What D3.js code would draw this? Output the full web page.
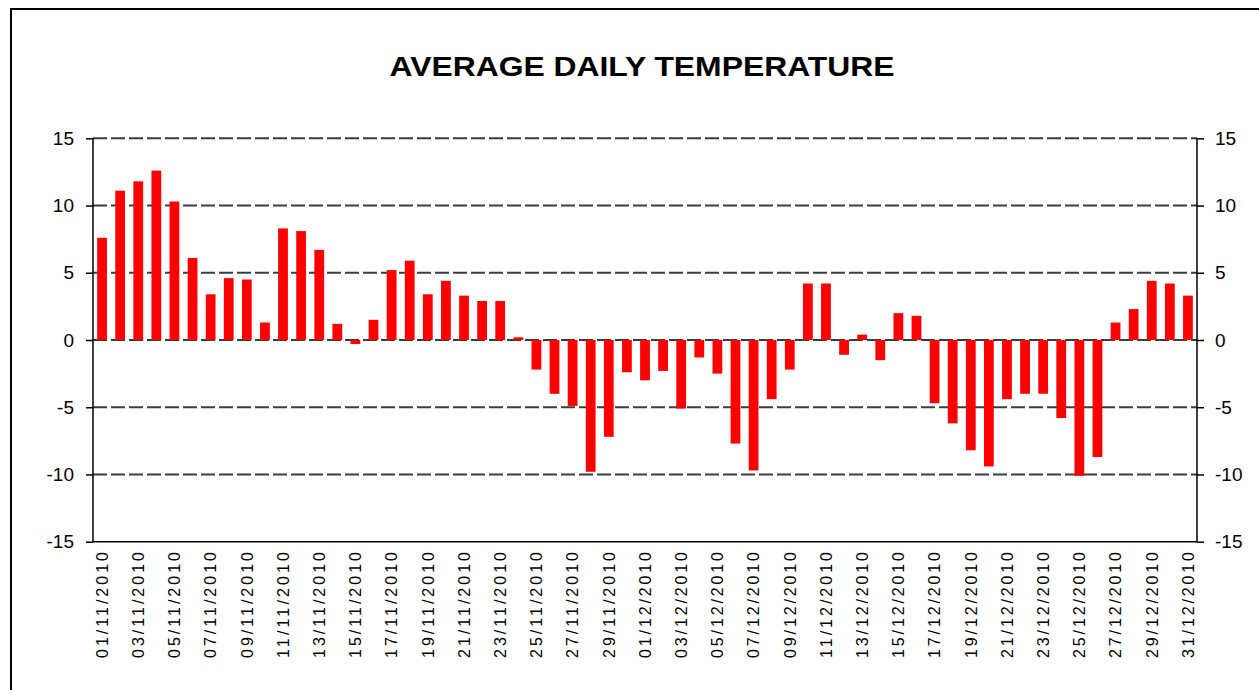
<!DOCTYPE html>
<html>
<head>
<meta charset="utf-8">
<script src="https://cdn.jsdelivr.net/npm/d3@7/dist/d3.min.js"></script>
<style>
  html, body { margin: 0; padding: 0; background: #fff; }
  svg { display: block; font-family: "Liberation Sans", Arial, sans-serif; }
</style>
</head>
<body>
<svg id="chart" width="1259" height="690"></svg>
<script>
// ---- data ----
const dates = [
  "01/11/2010","02/11/2010","03/11/2010","04/11/2010","05/11/2010","06/11/2010","07/11/2010","08/11/2010","09/11/2010","10/11/2010",
  "11/11/2010","12/11/2010","13/11/2010","14/11/2010","15/11/2010","16/11/2010","17/11/2010","18/11/2010","19/11/2010","20/11/2010",
  "21/11/2010","22/11/2010","23/11/2010","24/11/2010","25/11/2010","26/11/2010","27/11/2010","28/11/2010","29/11/2010","30/11/2010",
  "01/12/2010","02/12/2010","03/12/2010","04/12/2010","05/12/2010","06/12/2010","07/12/2010","08/12/2010","09/12/2010","10/12/2010",
  "11/12/2010","12/12/2010","13/12/2010","14/12/2010","15/12/2010","16/12/2010","17/12/2010","18/12/2010","19/12/2010","20/12/2010",
  "21/12/2010","22/12/2010","23/12/2010","24/12/2010","25/12/2010","26/12/2010","27/12/2010","28/12/2010","29/12/2010","30/12/2010",
  "31/12/2010"
];
const temps = [
  7.6, 11.1, 11.8, 12.6, 10.3, 6.1, 3.4, 4.6, 4.5, 1.3,
  8.3, 8.1, 6.7, 1.2, -0.3, 1.5, 5.2, 5.9, 3.4, 4.4,
  3.3, 2.9, 2.9, 0.2, -2.2, -4.0, -4.9, -9.8, -7.2, -2.4,
  -3.0, -2.3, -5.1, -1.3, -2.5, -7.7, -9.7, -4.4, -2.2, 4.2,
  4.2, -1.1, 0.4, -1.5, 2.0, 1.8, -4.7, -6.2, -8.2, -9.4,
  -4.4, -4.0, -4.0, -5.8, -10.1, -8.7, 1.3, 2.3, 4.4, 4.2,
  3.3
];
const yTicks = [-15, -10, -5, 0, 5, 10, 15];
const labelDates = dates.filter((d, i) => i % 2 === 0);
const title = "AVERAGE DAILY TEMPERATURE";

// ---- layout ----
const svg = d3.select("#chart");
const plotL = 93, plotR = 1197, plotT = 138.3, plotB = 541.7;

// chart frame
svg.append("rect")
  .attr("x", 11).attr("y", 9)
  .attr("width", 1300).attr("height", 800)
  .attr("fill", "none").attr("stroke", "#000").attr("stroke-width", 2);

const x = d3.scaleBand().domain(dates).range([plotL, plotR])
  .paddingInner(0.46).paddingOuter(0.23);
const y = d3.scaleLinear().domain([-15, 15]).range([plotB, plotT]);

// title
svg.append("text")
  .attr("x", 642).attr("y", 76)
  .attr("text-anchor", "middle")
  .attr("font-size", 28).attr("font-weight", "bold")
  .attr("textLength", 505).attr("lengthAdjust", "spacingAndGlyphs")
  .text(title);

// gridlines
svg.append("g").selectAll("line")
  .data(yTicks.filter(t => t > -15))
  .join("line")
  .attr("x1", plotL).attr("x2", plotR)
  .attr("y1", d => y(d)).attr("y2", d => y(d))
  .attr("stroke", "#3c3c3c").attr("stroke-width", 2)
  .attr("stroke-dasharray", "14,4");

// bars
svg.append("g").selectAll("rect")
  .data(temps)
  .join("rect")
  .attr("x", (d, i) => x(dates[i]))
  .attr("width", x.bandwidth())
  .attr("y", d => y(Math.max(0, d)))
  .attr("height", d => Math.abs(y(d) - y(0)))
  .attr("fill", "#ff0000");

// axes
const fmt = d => String(d);
const yAxisL = d3.axisLeft(y).tickValues(yTicks).tickFormat(fmt).tickSize(7).tickPadding(12);
const gL = svg.append("g").attr("transform", `translate(${plotL},0)`).call(yAxisL);
const yAxisR = d3.axisRight(y).tickValues(yTicks).tickFormat(fmt).tickSize(7).tickPadding(11);
const gR = svg.append("g").attr("transform", `translate(${plotR},0)`).call(yAxisR);
[gL, gR].forEach(g => {
  g.select(".domain").attr("stroke", "#000").attr("stroke-width", 1.5)
    .attr("d", `M0,${plotT}V${plotB}`);
  g.selectAll(".tick line").attr("stroke", "#000").attr("stroke-width", 1.5);
  g.selectAll(".tick text").attr("font-size", 19).attr("fill", "#000")
    .attr("font-family", "'Liberation Sans', Arial, sans-serif");
});

// bottom axis line
svg.append("line")
  .attr("x1", plotL).attr("x2", plotR)
  .attr("y1", plotB).attr("y2", plotB)
  .attr("stroke", "#000").attr("stroke-width", 1.5);

// x labels (every other date)
svg.append("g").selectAll("text")
  .data(labelDates)
  .join("text")
  .attr("transform", d => `translate(${x(d) + x.bandwidth() / 2},552) rotate(-90)`)
  .attr("text-anchor", "end")
  .attr("dy", "0.36em")
  .attr("font-size", 16)
  .attr("textLength", 106).attr("lengthAdjust", "spacing")
  .text(d => d);
</script>
</body>
</html>
